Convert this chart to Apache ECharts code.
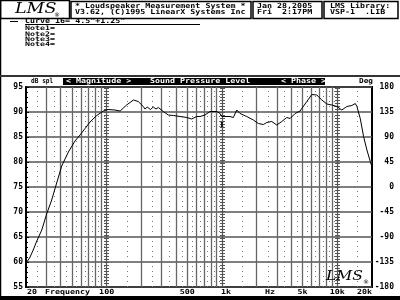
<!DOCTYPE html>
<html><head><meta charset="utf-8">
<script src="https://cdn.jsdelivr.net/npm/echarts@6/dist/echarts.min.js"></script>
<style>html,body{margin:0;padding:0;background:#fff}#c{width:400px;height:300px}</style>
</head><body><div id="c"></div>
<script>
// ---- data ----
const freqs = [20,21.5,23.1,24.8,27.4,30.2,33.4,36.9,40.8,46.6,53.2,58.8,65,71.8,82,93.7,103,118,131,149,171,188,208,215,225,240,254,268,281,310,343,379,433,496,547,604,646,713,788,902,931,964,996,1064,1175,1256,1343,1436,1641,1872,2070,2286,2447,2704,2988,3304,3648,3900,4308,4758,5443,6016,6646,7346,8119,8974,9926,10961,12108,13392,14320,14800,15820,16900,18070,19320,19960,20000];
const spl = [59.8,60.8,62.4,64.2,66.4,69.6,72.4,75.8,79.2,82.0,84.2,85.4,86.7,88.0,89.3,90.2,90.5,90.4,90.2,91.4,92.4,92.1,91.1,90.6,91.0,90.5,91.0,90.6,90.9,90.1,89.4,89.3,89.1,88.9,88.6,89.1,89.1,89.4,90.1,90.1,90.4,89.7,89.1,89.1,89.1,88.9,90.4,89.7,89.1,88.4,87.7,87.5,87.9,88.1,87.4,88.1,88.9,88.7,89.7,90.2,92.1,93.5,93.4,92.4,91.6,91.4,91.1,90.4,91.1,91.3,91.7,91.1,88.7,85.1,82.4,80.1,79.1,72.0];
const dbTicks = [55,60,65,70,75,80,85,90,95];
const phaseTicks = [-180,-135,-90,-45,0,45,90,135,180];
const freqLabelValues = [20,100,500,1000,5000,10000,20000];
const freqLabelTexts = ['20','100','500','1k','5k','10k','20k'];
const solidGridFreqs = [30,40,50,60,70,80,90,200,300,400,500,600,700,800,900,2000,3000,4000,5000,6000,7000,8000,9000];
const dottedGridFreqs = [25,35,45,55,65,75,85,95,150,250,350,450,550,650,750,850,950,1500,2500,3500,4500,5500,6500,7500,8500,9500,15000];
const decadeGridFreqs = [100,1000,10000];
const cursorFreq = 1000, cursorDb = 87.5;

const MONO = '"DejaVu Sans Mono", "Liberation Mono", monospace';
const chart = echarts.init(document.getElementById('c'), null, {renderer:'canvas'});

const gridLines = [];
solidGridFreqs.forEach(f => gridLines.push({xAxis:f, lineStyle:{color:'#666', width:1.3, type:'solid'}}));
dottedGridFreqs.forEach(f => gridLines.push({xAxis:f, lineStyle:{color:'#777', width:1, type:[1,4]}}));
decadeGridFreqs.forEach(f => {
  gridLines.push({xAxis:f, lineStyle:{color:'#555', width:1.2, type:'solid'}});
  gridLines.push({xAxis:f, lineStyle:{color:'#555', width:5, type:[1,2]}});
});

chart.setOption({
  animation:false,
  grid:{left:26, right:28, top:87, bottom:13, show:true, borderColor:'#000', borderWidth:2},
  xAxis:{type:'log', logBase:10, min:20, max:20000,
    axisLabel:{show:false}, axisTick:{show:false}, splitLine:{show:false}, axisLine:{show:false}},
  yAxis:[
    {type:'value', min:55, max:95, interval:5, position:'left',
     axisLine:{show:true, lineStyle:{color:'#000', width:2}},
     axisTick:{show:true, inside:true, length:3, lineStyle:{color:'#000'}},
     minorTick:{show:true, splitNumber:5, length:2, lineStyle:{color:'#000'}},
     axisLabel:{margin:3, color:'#000', fontFamily:MONO, fontSize:8, fontWeight:'bold'},
     splitLine:{show:true, lineStyle:{color:'#555', width:1.5}}},
    {type:'value', min:-180, max:180, interval:45, position:'right',
     axisLine:{show:false}, axisTick:{show:false}, splitLine:{show:false},
     axisLabel:{margin:22, align:'right', color:'#000', fontFamily:MONO, fontSize:8, fontWeight:'bold'}}
  ],
  series:[
    {type:'line', data:[], z:1, silent:true,
     markLine:{silent:true, symbol:['none','none'], label:{show:false}, animation:false, data:gridLines}},
    {type:'line', z:5, showSymbol:false, silent:true,
     data:freqs.map((f,i)=>[f, spl[i]]),
     lineStyle:{color:'#000', width:1}}
  ]
});

function T(text, x, y, opts, sx) {
  opts = opts || {};
  const s = sx === undefined ? 1.19 : sx;
  return {type:'text', x:x, y:y, z:100, silent:true, scaleX:s,
    style:Object.assign({text:text, fill:'#000', fontFamily:MONO, fontSize:7, fontWeight:'bold',
      align:'left', verticalAlign:'middle'}, opts)};
}
function R(x,y,w,h,style){ return {type:'rect', z:90, silent:true, shape:{x:x,y:y,width:w,height:h}, style:style}; }

const g = [];
g.push(R(0,296,400,4,{fill:'#000'}));
g.push({type:'line', z:90, shape:{x1:0.5,y1:0,x2:0.5,y2:300}, style:{stroke:'#000', lineWidth:1.5}});
// header boxes
g.push(R(0.5,0.5,69,18,{fill:'none', stroke:'#000', lineWidth:1.5}));
g.push(R(71,1.5,180,17,{fill:'none', stroke:'#000', lineWidth:1.5}));
g.push(R(253,1.5,69,17,{fill:'none', stroke:'#000', lineWidth:1.5}));
g.push(R(324,1.5,74,17,{fill:'none', stroke:'#000', lineWidth:1.5}));
g.push(T('* Loudspeaker Measurement System *', 75, 6.5));
g.push(T('V3.62, (C)1995 LinearX Systems Inc', 75, 12.5));
g.push(T('Jan 28,2005', 257, 6.5));
g.push(T('Fri  2:17PM', 257, 12.5));
g.push(T('LMS Library:', 330, 6.5));
g.push(T('VSP-1  .LIB', 330, 12.5));
// logo top-left
g.push(T('LMS', 15, 9.5, {fontFamily:'"DejaVu Serif", serif', fontStyle:'italic', fontWeight:'normal', fontSize:14}, 1.25));
g.push(T('\u00AE', 54, 15, {fontFamily:'"DejaVu Sans", sans-serif', fontWeight:'normal', fontSize:6}, 1));
// notes
g.push({type:'line', z:90, shape:{x1:10,y1:21.5,x2:18,y2:21.5}, style:{stroke:'#000', lineWidth:1}});
g.push(T('Curve 16= 4.5"+1.25"', 25, 21.3));
g.push({type:'line', z:90, shape:{x1:25,y1:24.5,x2:200,y2:24.5}, style:{stroke:'#000', lineWidth:1}});
['Note1=','Note2=','Note3=','Note4='].forEach((t,i)=>g.push(T(t, 25, 28.7 + i*5.3, {fontSize:6.3}, 1.32)));
// separator and title bar
g.push(R(0,75,400,2,{fill:'#333'}));
g.push(R(63,78,262,7,{fill:'#000'}));
g.push(T('dB spl', 31, 81.5, {}, 0.88));
g.push(T('< Magnitude >', 66, 81.5, {fill:'#fff'}));
g.push(T('Sound Pressure Level', 150, 81.5, {fill:'#fff'}));
g.push(T('< Phase >', 281, 81.5, {fill:'#fff'}));
g.push(T('Deg', 359, 81.5, {}, 1.1));

// x labels placed through the axis scale
freqLabelValues.forEach((f,i)=>{
  const px = chart.convertToPixel({xAxisIndex:0}, f);
  const w = freqLabelTexts[i].length * 5;
  let left = px - w/2;
  if (i === 0) left = px + 1;
  if (i === freqLabelValues.length-1) left = px - w;
  if (i === 3) left = px - 1;
  g.push(T(freqLabelTexts[i], left, 292));
});
g.push(T('Frequency', 45, 292));
g.push(T('Hz', 265, 292));
// cursor marker
const cp = chart.convertToPixel({xAxisIndex:0, yAxisIndex:0}, [cursorFreq, cursorDb]);
g.push(T('I', cp[0]-2, cp[1], {fontSize:8, fontFamily:'"DejaVu Serif", serif'}, 1));
// logo bottom-right
g.push(T('LMS', 326, 277, {fontFamily:'"DejaVu Serif", serif', fontStyle:'italic', fontWeight:'normal', fontSize:13}, 1.2));
g.push(T('\u00AE', 363, 282, {fontFamily:'"DejaVu Sans", sans-serif', fontWeight:'normal', fontSize:6}, 1));

chart.setOption({graphic:g});
</script></body></html>
